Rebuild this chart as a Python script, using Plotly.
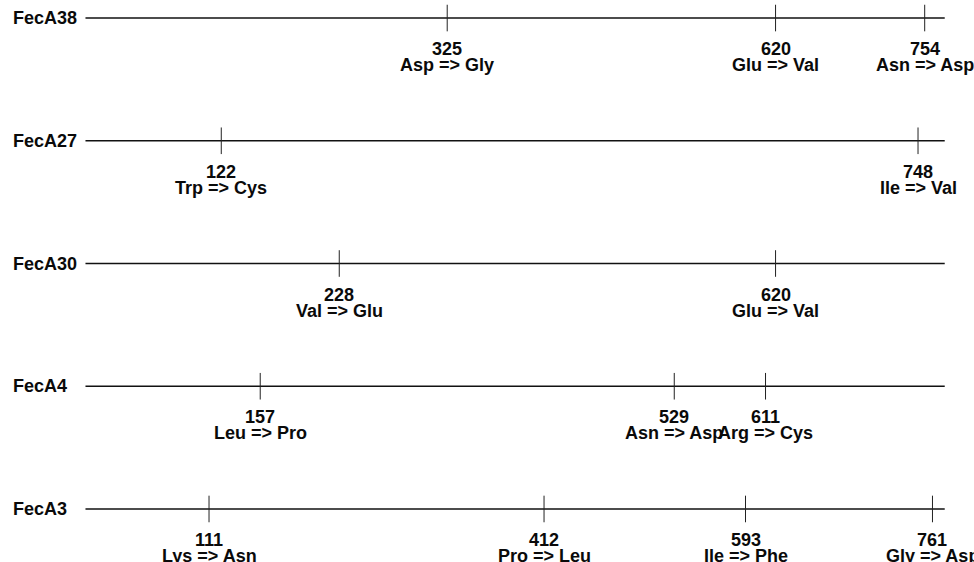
import plotly.graph_objects as go

# ---- data ----
strains = ["FecA38", "FecA27", "FecA30", "FecA4", "FecA3"]
row_values = [4, 3, 2, 1, 0]
protein_start = 0
protein_end = 772

fecA38_pos = [325, 620, 754]
fecA38_mut = ["Asp => Gly", "Glu => Val", "Asn => Asp"]
fecA27_pos = [122, 748]
fecA27_mut = ["Trp => Cys", "Ile => Val"]
fecA30_pos = [228, 620]
fecA30_mut = ["Val => Glu", "Glu => Val"]
fecA4_pos = [157, 529, 611]
fecA4_mut = ["Leu => Pro", "Asn => Asp", "Arg => Cys"]
fecA3_pos = [111, 412, 593, 761]
fecA3_mut = ["Lys => Asn", "Pro => Leu", "Ile => Phe", "Gly => Asp"]

positions = [fecA38_pos, fecA27_pos, fecA30_pos, fecA4_pos, fecA3_pos]
mutations = [fecA38_mut, fecA27_mut, fecA30_mut, fecA4_mut, fecA3_mut]

FONT = "Liberation Sans, Arial, sans-serif"
TXT = "#0a0a0a"

fig = go.Figure()
annotations = []
for name, v, pos, muts in zip(strains, row_values, positions, mutations):
    fig.add_trace(go.Scatter(
        x=[protein_start, protein_end], y=[v, v], mode="lines",
        line=dict(color="#111111", width=1.4), hoverinfo="skip", showlegend=False))
    fig.add_trace(go.Scatter(
        x=pos, y=[v] * len(pos), mode="markers",
        marker=dict(symbol="line-ns", size=19, line=dict(color="#222222", width=1)),
        hoverinfo="skip", showlegend=False))
    annotations.append(dict(
        x=0, xref="paper", y=v, yref="y", text="<b>" + name + "</b>", showarrow=False,
        xanchor="left", yanchor="middle", xshift=11,
        font=dict(family=FONT, size=18, color=TXT)))
    for p, m in zip(pos, muts):
        annotations.append(dict(
            x=p, y=v, text="<b>" + str(p) + "</b>", showarrow=False,
            xanchor="center", yanchor="middle",
            yshift=-31, font=dict(family=FONT, size=18, color=TXT)))
        annotations.append(dict(
            x=p, y=v, text="<b>" + m + "</b>", showarrow=False,
            xanchor="center", yanchor="middle",
            yshift=-47, font=dict(family=FONT, size=18, color=TXT)))

fig.update_layout(
    width=974, height=562,
    margin=dict(l=0, r=0, t=0, b=0),
    paper_bgcolor="white", plot_bgcolor="white",
    xaxis=dict(range=[-76.8, 798.3], visible=False, fixedrange=True),
    yaxis=dict(range=[-0.432, 4.147], visible=False, fixedrange=True),
    annotations=annotations,
    showlegend=False,
)

fig.write_html(
    "out.html",
    config={"displayModeBar": False},
    post_script="document.body.style.margin='0';document.body.style.overflow='hidden';",
)
